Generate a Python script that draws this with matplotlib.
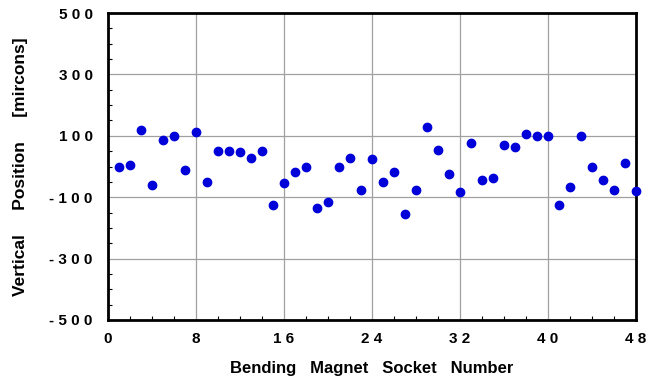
import matplotlib.pyplot as plt
from matplotlib.ticker import MultipleLocator

plt.rcParams['font.family'] = ['Liberation Sans', 'DejaVu Sans']

# socket number and measured vertical position (microns)
socket = list(range(1, 49))
position = [0, 5, 120, -60, 86, 99, -10, 112, -49, 51,
            51, 47, 29, 51, -125, -53, -18, 0, -136, -114,
            -1, 29, -75, 25, -49, -18, -155, -75, 129, 55,
            -25, -84, 77, -45, -36, 71, 64, 105, 99, 99,
            -125, -66, 99, -1, -45, -75, 10, -79]

xticks = [0, 8, 16, 24, 32, 40, 48]
yticks = [-500, -300, -100, 100, 300, 500]


def spaced(v):
    return ' '.join(str(v))


fig = plt.figure(figsize=(6.58, 3.83), dpi=100)
ax = fig.add_axes([0.164, 0.1645, 0.8026, 0.8015])

ax.scatter(socket, position, s=36, color='#0000d8', zorder=3, clip_on=False)

ax.set_xlim(0, 48)
ax.set_ylim(-500, 500)
ax.set_xticks(xticks)
ax.set_xticklabels([spaced(t) for t in xticks])
ax.set_yticks(yticks)
ax.set_yticklabels([spaced(t) for t in yticks])
ax.xaxis.set_minor_locator(MultipleLocator(2))
ax.yaxis.set_minor_locator(MultipleLocator(50))

ax.grid(True, which='major', color='#a0a0a0', linewidth=0.9)
ax.set_axisbelow(True)
ax.tick_params(which='both', direction='in', top=False, right=False)
ax.tick_params(which='major', length=0, labelsize=11)
ax.tick_params(axis='y', which='major', pad=11)
ax.tick_params(axis='x', which='major', pad=9)
ax.tick_params(which='minor', length=3, width=0.8)
for lab in ax.get_xticklabels() + ax.get_yticklabels():
    lab.set_fontweight('bold')

for sp in ax.spines.values():
    sp.set_linewidth(2)
    sp.set_color('black')

ax.set_xlabel('Bending   Magnet   Socket   Number', fontsize=12,
              fontweight='bold')
ax.set_ylabel('Vertical     Position     [mircons]', fontsize=12.5,
              fontweight='bold')
ax.xaxis.set_label_coords(0.5, -0.135)
ax.yaxis.set_label_coords(-0.152, 0.5)

fig.savefig('out.png', dpi=100)
